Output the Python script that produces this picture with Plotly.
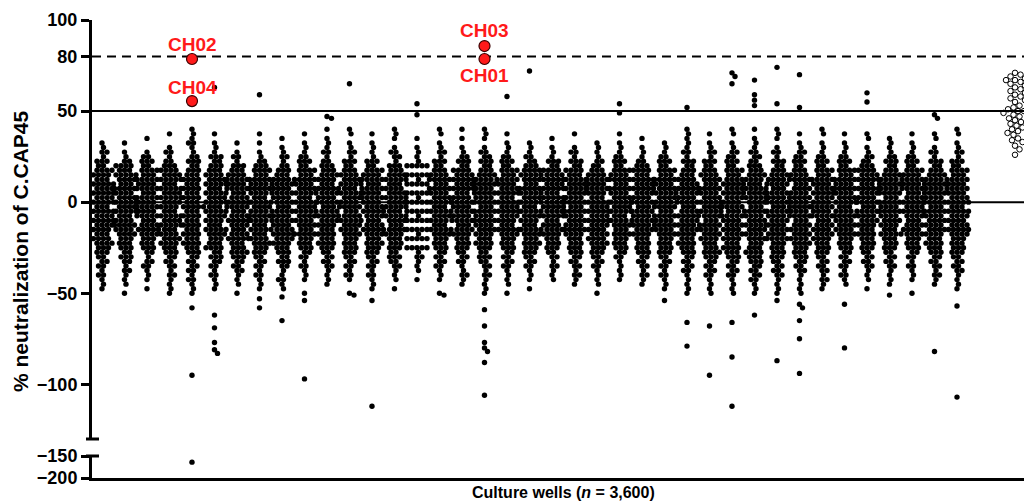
import plotly.graph_objects as go

# ---------------- data ----------------
# Each culture-plate column: number of wells per 2.5-unit row, rows from +40 down to -50
BIN_TOP = 40
BIN_STEP = 2.5
COLUMN_COUNTS = [
    "00011 21324 43545 45354 54434 43322 21211 10",
    "00010 11243 54354 45453 45443 33232 12111 01",
    "00100 12324 35453 54545 34543 33212 21110 10",
    "01001 21234 45354 54435 45344 43322 21211 11",
    "11121 12323 34343 43534 34343 43322 22121 11",
    "01011 13233 44535 45354 43543 34232 21211 10",
    "00010 12133 45453 45534 54345 33432 22111 01",
    "01010 11234 35454 35445 43534 43322 21211 10",
    "00101 12123 34545 44354 54454 43323 21121 10",
    "01011 12324 35445 35454 44353 33221 21110 01",
    "10111 21233 44354 45345 44343 43222 21111 00",
    "11011 21323 44535 44534 54443 33322 21210 01",
    "01011 11324 45354 54454 34543 43322 21211 10",
    "11101 22133 45344 54535 43443 33232 21110 10",
    "00101 11150 51505 15051 50515 05121 11010 00",
    "11011 21323 45354 45354 43543 33222 21110 01",
    "10101 12324 45453 45444 53443 33222 11211 00",
    "11101 22323 44545 45354 54443 43232 21211 11",
    "01011 12324 35445 35454 43543 33222 21111 00",
    "00011 12234 54355 45354 43543 43322 21110 10",
    "00101 11324 45453 54545 34443 33221 21110 00",
    "01001 21324 35454 45354 44543 33322 21211 00",
    "00011 11223 45454 35454 54444 43322 21111 01",
    "01011 12324 45354 45453 44343 33221 11110 00",
    "00101 11234 35454 45354 54443 33322 21211 00",
    "00011 12324 35445 44535 45443 33322 21211 10",
    "11111 21323 34454 45345 44443 43322 22111 11",
    "01011 21323 44354 45454 35444 33432 22211 11",
    "11011 22324 34545 44535 44444 34332 22211 11",
    "10111 22233 44354 54354 45444 33433 22221 11",
    "11101 21323 44535 45354 44445 33332 22211 11",
    "01011 22323 45344 54545 34444 43332 22111 11",
    "11011 12324 35445 44545 34444 33322 22121 10",
    "01011 12324 35454 45345 44443 33222 21211 00",
    "01101 12234 45354 45354 44343 33222 21110 10",
    "00111 12323 44545 35454 44353 33222 21111 00",
    "01011 12324 45453 45454 34443 33221 21110 00",
    "01101 21323 44545 45354 44443 43322 21211 00",
    "11011 21324 35454 45354 44543 33322 22111 10",
]

# Isolated wells outside the dense band: (column, % neutralization)
UPPER_OUTLIER_COLS = [5, 7, 10, 10, 11, 14, 14, 18, 19, 23, 23, 26, 28, 28, 28, 29, 29, 29, 29, 30, 30, 31, 31, 34, 34, 37, 37]
UPPER_OUTLIER_VALS = [63, 59, 47, 46, 65, 54, 48, 58, 72, 54, 49, 52, 69, 71, 65, 67, 59, 56, 53, 74, 54, 70, 52, 60, 55, 48, 46]

LOWER_OUTLIER_COLS = [4, 4, 5, 5, 5, 5, 5, 7, 7, 8, 8, 9, 9, 11, 12, 12, 15,
                      17, 17, 17, 17, 17, 17, 17, 18, 25, 26, 26, 27, 27, 28, 28, 28,
                      29, 30, 30, 31, 31, 31, 31, 31, 33, 33, 35, 36, 37, 38, 38]
LOWER_OUTLIER_VALS = [-58, -95, -62, -69, -77, -81, -83, -53, -58, -52, -65, -54, -97, -51, -54, -112, -51,
                      -59, -68, -77, -80, -82, -88, -106, -50, -54, -66, -79, -68, -95, -66, -85, -112,
                      -62, -54, -87, -56, -58, -65, -75, -94, -56, -80, -51, -50, -82, -57, -107]

# Well below the axis break (lower axis segment)
FAR_OUTLIER_COLS = [4]
FAR_OUTLIER_VALS = [-164]

# Highlighted wells
HIGHLIGHT_LABELS = ["CH02", "CH04", "CH03", "CH01"]
HIGHLIGHT_COLS = [4, 4, 17, 17]
HIGHLIGHT_VALS = [78.6, 55.5, 85.7, 78.6]

# Control wells (open circles)
CONTROL_VALS = [71, 70, 69, 68, 67, 67, 66, 65, 64, 63, 62, 61, 60, 59, 58, 57, 56, 55, 53, 52,
                51, 50, 50, 49, 48, 47, 46, 45, 44, 43, 42, 41, 40, 39, 38, 37, 35, 34, 33, 31, 29, 26]

Y_TICKS = [100, 80, 50, 0, -50, -100]
Y2_TICKS = [-150, -200]
REF_LINES_SOLID = [0, 50]
REF_LINE_DASHED = 80

# ---------------- layout constants ----------------
W, H = 1024, 501
ML, MR, MT, MB = 92, 0, 20, 23
PLOT_W = W - ML - MR
PLOT_H = H - MT - MB
COL_PX = 22.5            # px between plate columns
FIRST_COL_PX = 102       # px of first column centre
CONTROL_POS = (1015 - FIRST_COL_PX) / COL_PX
X_RANGE = [(ML - FIRST_COL_PX) / COL_PX, (W - MR - FIRST_COL_PX) / COL_PX]
Y_BREAK_PX = 439
Y2_TOP_PX = 456
DOM1 = [(H - MB - Y_BREAK_PX) / PLOT_H, 1.0]
DOM2 = [0.0, (H - MB - Y2_TOP_PX) / PLOT_H]
Y_RANGE = [-130, 100]
Y2_RANGE = [-200, -150]
Y_PX_PER_UNIT = (DOM1[1] - DOM1[0]) * PLOT_H / (Y_RANGE[1] - Y_RANGE[0])
DOT = 5.4          # marker diameter, px
SEP = 4.7          # centre-to-centre spacing used by the swarm, px
FONT = "Liberation Sans, Arial, Helvetica, sans-serif"


def swarm(values, d=SEP, step=0.5, maxoff=40):
    """Beeswarm x offsets (px) so that dots keep a centre distance of at least d."""
    order = sorted(range(len(values)), key=lambda i: -values[i])
    offs = [0.0]
    k = 1
    while k * step <= maxoff:
        offs += [k * step, -k * step]
        k += 1
    placed = []
    xs = [0.0] * len(values)
    for i in order:
        y = values[i] * Y_PX_PER_UNIT
        near = [(py, px) for (py, px) in placed if abs(py - y) < d]
        chosen = 0.0
        for o in offs:
            if all((o - px) ** 2 + (y - py) ** 2 >= d * d for py, px in near):
                chosen = o
                break
        xs[i] = chosen
        placed.append((y, chosen))
    return xs


# build per-column value lists
col_values = []
for s in COLUMN_COUNTS:
    counts = [int(c) for c in s.replace(" ", "")]
    vals = []
    for i, n in enumerate(counts):
        vals += [BIN_TOP - BIN_STEP * i] * n
    col_values.append(vals)
for c, v in zip(UPPER_OUTLIER_COLS, UPPER_OUTLIER_VALS):
    col_values[c].append(v)
for c, v in zip(LOWER_OUTLIER_COLS, LOWER_OUTLIER_VALS):
    col_values[c].append(v)

xs, ys = [], []
for c, vals in enumerate(col_values):
    offs = swarm(vals)
    for v, o in zip(vals, offs):
        xs.append(c + o / COL_PX)
        ys.append(v)

fig = go.Figure()
fig.add_trace(go.Scatter(
    x=xs, y=ys, mode="markers", xaxis="x", yaxis="y",
    marker=dict(size=DOT, color="black", line=dict(width=0)),
    hoverinfo="skip", showlegend=False))

# control wells
coffs = swarm(CONTROL_VALS, d=5.6)
fig.add_trace(go.Scatter(
    x=[CONTROL_POS + o / COL_PX for o in coffs], y=CONTROL_VALS, mode="markers",
    marker=dict(size=5.5, symbol="circle-open", color="black", line=dict(width=1, color="black")),
    hoverinfo="skip", showlegend=False))

# far outlier in lower segment
fig.add_trace(go.Scatter(
    x=FAR_OUTLIER_COLS, y=FAR_OUTLIER_VALS, mode="markers", xaxis="x", yaxis="y2",
    marker=dict(size=DOT, color="black"), hoverinfo="skip", showlegend=False))

# highlighted wells
fig.add_trace(go.Scatter(
    x=HIGHLIGHT_COLS, y=HIGHLIGHT_VALS, mode="markers",
    marker=dict(size=11, color="#ff1a1a", line=dict(width=1.2, color="#3a0000")),
    hoverinfo="skip", showlegend=False))

label_dy = {"CH02": 8.0, "CH04": 7.5, "CH03": 8.5, "CH01": -9.0}
for lab, c, v in zip(HIGHLIGHT_LABELS, HIGHLIGHT_COLS, HIGHLIGHT_VALS):
    fig.add_annotation(x=c, y=v + label_dy[lab], xref="x", yref="y", text=lab,
                       showarrow=False, xanchor="center", yanchor="middle",
                       font=dict(family=FONT, size=19, color="#ff1a1a", weight="bold"))

# reference lines
for yv in REF_LINES_SOLID:
    fig.add_shape(type="line", xref="paper", yref="y", x0=0, x1=1, y0=yv, y1=yv,
                  line=dict(color="black", width=2), layer="below")
fig.add_shape(type="line", xref="paper", yref="y", x0=0, x1=1, y0=REF_LINE_DASHED, y1=REF_LINE_DASHED,
              line=dict(color="black", width=2, dash="9px,6px"), layer="below")

# axis break caps
cap_y1 = DOM1[0]
fig.add_shape(type="line", xref="paper", yref="paper", x0=(86 - ML) / PLOT_W, x1=(99 - ML) / PLOT_W,
              y0=cap_y1, y1=cap_y1, line=dict(color="black", width=3))
cap_y2 = DOM2[1]
fig.add_shape(type="line", xref="paper", yref="paper", x0=(86 - ML) / PLOT_W, x1=(99 - ML) / PLOT_W,
              y0=cap_y2, y1=cap_y2, line=dict(color="black", width=3))

# titles
fig.add_annotation(xref="paper", yref="paper", x=(20 - ML) / PLOT_W, y=(H - MB - 251) / PLOT_H,
                   text="% neutralization of C.CAP45", textangle=-90, showarrow=False,
                   xanchor="center", yanchor="middle",
                   font=dict(family=FONT, size=21, color="black", weight="bold"))
fig.add_annotation(xref="paper", yref="paper", x=(563 - ML) / PLOT_W, y=(H - MB - 492) / PLOT_H,
                   text="Culture wells (<i>n</i> = 3,600)", showarrow=False,
                   xanchor="center", yanchor="middle",
                   font=dict(family=FONT, size=16, color="black", weight="bold"))

tickfont = dict(family=FONT, size=18, color="black", weight="bold")
fig.update_layout(
    width=W, height=H,
    margin=dict(l=ML, r=MR, t=MT, b=MB, pad=0),
    paper_bgcolor="white", plot_bgcolor="white",
    xaxis=dict(range=X_RANGE, domain=[0, 1], anchor="y2", showline=True, linewidth=3, linecolor="black",
               showticklabels=False, ticks="", showgrid=False, zeroline=False),
    yaxis=dict(range=Y_RANGE, domain=DOM1, anchor="x", tickvals=Y_TICKS,
               showline=True, linewidth=3, linecolor="black", ticks="outside", ticklen=8, tickwidth=3,
               tickcolor="black", tickfont=tickfont, showgrid=False, zeroline=False),
    yaxis2=dict(range=Y2_RANGE, domain=DOM2, anchor="x", tickvals=Y2_TICKS,
                showline=True, linewidth=3, linecolor="black", ticks="outside", ticklen=8, tickwidth=3,
                tickcolor="black", tickfont=tickfont, showgrid=False, zeroline=False),
)

fig.write_html("out.html", config={"displayModeBar": False},
               post_script="document.body.style.margin='0';document.body.style.overflow='hidden';")
